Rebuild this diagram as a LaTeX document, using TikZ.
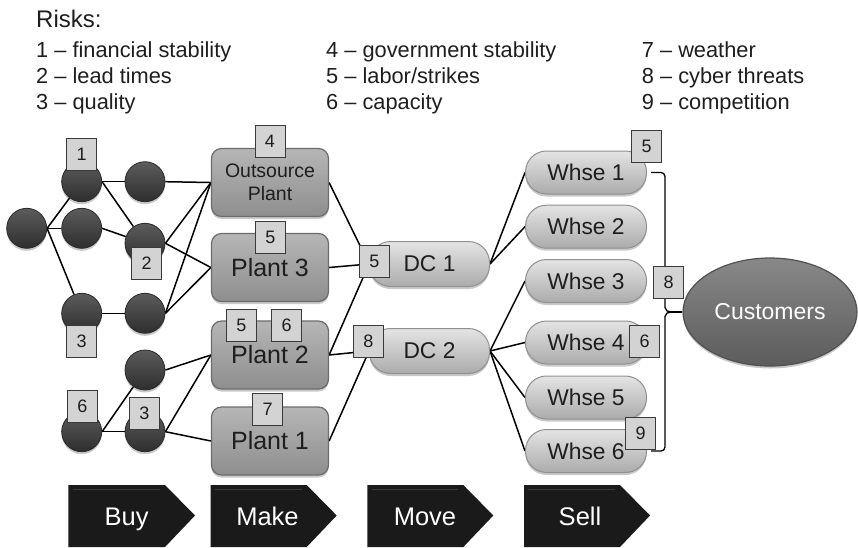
\documentclass[tikz,border=0pt]{standalone}
\usepackage{fontspec}
\setmainfont{Liberation Sans}
\usetikzlibrary{shapes.geometric,shadows}

\definecolor{hubtop}{HTML}{5C5C5C}
\definecolor{hubbot}{HTML}{2E2E2E}
\definecolor{hubline}{HTML}{2A2A2A}
\definecolor{planttop}{HTML}{B6B6B6}
\definecolor{plantbot}{HTML}{8E8E8E}
\definecolor{plantline}{HTML}{6C6C6C}
\definecolor{pilltop}{HTML}{E4E4E4}
\definecolor{pillbot}{HTML}{ABABAB}
\definecolor{pillline}{HTML}{909090}
\definecolor{custtop}{HTML}{888888}
\definecolor{custbot}{HTML}{5C5C5C}
\definecolor{custline}{HTML}{505050}
\definecolor{riskfill}{HTML}{D3D3D3}
\definecolor{riskline}{HTML}{3A3A3A}
\definecolor{stagefill}{HTML}{1A1A1A}
\definecolor{stagelight}{HTML}{3A3A3A}
\definecolor{inkdark}{HTML}{1E1E1E}

\pgfdeclarelayer{background}
\pgfsetlayers{background,main}

\tikzset{
  wire/.style={line width=1.5pt, black},
  softshadow/.style={drop shadow={shadow xshift=0pt, shadow yshift=-2.5pt, opacity=0.3, fill=black!70}},
  hub/.style={circle, minimum size=40pt, inner sep=0pt, draw=hubline, line width=0.8pt,
    top color=hubtop, bottom color=hubbot, softshadow},
  plant/.style={rectangle, rounded corners=10pt, minimum width=117pt, minimum height=68pt,
    inner sep=0pt, draw=plantline, line width=1.2pt, top color=planttop, bottom color=plantbot,
    font=\fontsize{25}{28}\selectfont, text=inkdark, align=center, softshadow},
  pill/.style={rectangle, rounded corners=21pt, minimum width=121pt, minimum height=43pt,
    inner sep=0pt, draw=pillline, line width=1pt, top color=pilltop, bottom color=pillbot,
    font=\fontsize{22.8}{26}\selectfont, text=inkdark, softshadow},
  cust/.style={ellipse, minimum width=174pt, minimum height=108pt, inner sep=0pt,
    draw=custline, line width=1.2pt, top color=custtop, bottom color=custbot,
    font=\fontsize{23}{26}\selectfont, text=white, softshadow},
  riskbox/.style={rectangle, minimum width=30pt, minimum height=32pt, inner sep=0pt,
    fill=riskfill, draw=riskline, line width=0.8pt, font=\fontsize{18}{20}\selectfont, text=inkdark},
  legend/.style={anchor=base west, inner sep=0pt, font=\fontsize{21.8}{26}\selectfont, text=inkdark},
  stage/.style={fill=stagefill},
  stagehi/.style={draw=stagelight, line width=1.2pt},
  stagetext/.style={anchor=base, inner sep=0pt, text=white, font=\fontsize{25.5}{28}\selectfont},
}

\begin{document}
\begin{tikzpicture}[x=1pt, y=-1pt]
\useasboundingbox (0,0) rectangle (858,547);

% ---- risk legend ----
\node[legend, font=\fontsize{24}{28}\selectfont] (title) at (36,27.3) {Risks:};
\node[legend] (k1) at (36,57.3)  {1 – financial stability};
\node[legend] (k2) at (36,83.3)  {2 – lead times};
\node[legend] (k3) at (36,109.3) {3 – quality};
\node[legend] (k4) at (326,57.3)  {4 – government stability};
\node[legend] (k5) at (326,83.3)  {5 – labor/strikes};
\node[legend] (k6) at (326,109.3) {6 – capacity};
\node[legend] (k7) at (641.7,57.3)  {7 – weather};
\node[legend] (k8) at (641.7,83.3)  {8 – cyber threats};
\node[legend] (k9) at (641.7,109.3) {9 – competition};

% ---- supplier tiers ----
\node[hub] (L)  at (26.7,228.3) {};
\node[hub] (A1) at (81.7,181.7) {};
\node[hub] (A2) at (81.7,228.3) {};
\node[hub] (A3) at (81.7,313.3) {};
\node[hub] (A4) at (81.7,431.7) {};
\node[hub] (B1) at (145,181.7) {};
\node[hub] (B2) at (145,243.3) {};
\node[hub] (B3) at (145,313.3) {};
\node[hub] (B4) at (145,370) {};
\node[hub] (B5) at (145,431.7) {};

% ---- plants ----
\node[plant, font=\fontsize{19.5}{23.3}\selectfont] (OP) at (270,182.5) {Outsource\\Plant};
\node[plant] (P3) at (270,267.5) {Plant 3};
\node[plant] (P2) at (270,355) {Plant 2};
\node[plant] (P1) at (270,441) {Plant 1};

% ---- distribution centres ----
\node[pill, minimum width=120pt, minimum height=45pt] (DC1) at (429.5,264) {DC 1};
\node[pill, minimum width=120pt, minimum height=45pt] (DC2) at (429.5,351) {DC 2};

% ---- warehouses ----
\node[pill] (W1) at (586,172.5) {Whse 1};
\node[pill] (W2) at (586,226.7) {Whse 2};
\node[pill] (W3) at (586,281) {Whse 3};
\node[pill] (W4) at (586,342.5) {Whse 4};
\node[pill] (W5) at (586,397.5) {Whse 5};
\node[pill] (W6) at (586,451) {Whse 6};

% ---- customers ----
\node[cust] (CU) at (770,312) {Customers};

% ---- flows ----
\begin{pgfonlayer}{background}
  \draw[wire] (L.east) -- (A1);
  \draw[wire] (L.east) -- (A2);
  \draw[wire] (L.east) -- (A3);
  \draw[wire] (A1.east) -- (B1);
  \draw[wire] (A1.east) -- (B2);
  \draw[wire] (A2.east) -- (B2);
  \draw[wire] (A3.east) -- (B3);
  \draw[wire] (A4.east) -- (B4);
  \draw[wire] (A4.east) -- (B5);
  \draw[wire] (B1.east) -- (OP.west);
  \draw[wire] (B2.east) -- (OP.west);
  \draw[wire] (B3.east) -- (OP.west);
  \draw[wire] (B2.east) -- (P3.west);
  \draw[wire] (B3.east) -- (P3.west);
  \draw[wire] (B4.east) -- (P2.west);
  \draw[wire] (B5.east) -- (P2.west);
  \draw[wire] (B5.east) -- (P1.west);
  \draw[wire] (OP.east) -- (DC1.west);
  \draw[wire] (P3.east) -- (DC1.west);
  \draw[wire] (P2.east) -- (DC1.west);
  \draw[wire] (P2.east) -- (DC2.west);
  \draw[wire] (P1.east) -- (DC2.west);
  \draw[wire] (DC1.east) -- (W1.west);
  \draw[wire] (DC1.east) -- (W2.west);
  \draw[wire] (DC2.east) -- (W3.west);
  \draw[wire] (DC2.east) -- (W4.west);
  \draw[wire] (DC2.east) -- (W5.west);
  \draw[wire] (DC2.east) -- (W6.west);
  % brace gathering the warehouses toward the customers
  \coordinate (tip) at (671,312);
  \draw[wire, line width=1.3pt] ([xshift=4pt]W1.east) -- (661,172.5) to[out=0,in=90] (665,176.5)
    -- (665,307.5) to[out=-90,in=180] (tip);
  \draw[wire, line width=1.3pt] ([xshift=4pt]W6.east) -- (661,451) to[out=0,in=-90] (665,447)
    -- (665,316.5) to[out=90,in=180] (tip);
  \draw[wire, line width=2pt] (tip) -- (CU.west);
\end{pgfonlayer}

% ---- risk markers ----
\node[riskbox] (r1)  at (81.7,154) {1};
\node[riskbox] (r2)  at (146.7,263) {2};
\node[riskbox] (r3a) at (81.7,341) {3};
\node[riskbox] (r6a) at (82.5,406) {6};
\node[riskbox] (r3b) at (144.5,413) {3};
\node[riskbox] (r4)  at (270,141) {4};
\node[riskbox] (r5a) at (270.5,237) {5};
\node[riskbox] (r5b) at (241.3,325.5) {5};
\node[riskbox] (r6b) at (286.7,325.5) {6};
\node[riskbox] (r7)  at (267.7,409.5) {7};
\node[riskbox] (r5c) at (374.3,261) {5};
\node[riskbox] (r8a) at (368.3,341) {8};
\node[riskbox] (r5d) at (646.7,146) {5};
\node[riskbox] (r8b) at (668.7,282.7) {8};
\node[riskbox] (r6c) at (644.7,341) {6};
\node[riskbox] (r9)  at (640.5,433) {9};

% ---- process stages ----
\fill[stage] (68.3,485) -- (165,485) -- (195,515.5) -- (165,547) -- (68.3,547) -- cycle;
\fill[stage] (210.7,485) -- (306.7,485) -- (336.7,515.5) -- (306.7,547) -- (210.7,547) -- cycle;
\fill[stage] (367.3,485) -- (463.3,485) -- (493.3,515.5) -- (463.3,547) -- (367.3,547) -- cycle;
\fill[stage] (524,485) -- (620,485) -- (650,515.5) -- (620,547) -- (524,547) -- cycle;
\draw[stagehi] (73,489.5) -- (160,489.5);
\draw[stagehi] (215,489.5) -- (302,489.5);
\draw[stagehi] (372,489.5) -- (458,489.5);
\draw[stagehi] (528,489.5) -- (615,489.5);
\node[stagetext] (sBuy)  at (126.7,525) {Buy};
\node[stagetext] (sMake) at (267.5,525) {Make};
\node[stagetext] (sMove) at (425,525) {Move};
\node[stagetext] (sSell) at (580,525) {Sell};
\end{tikzpicture}
\end{document}
